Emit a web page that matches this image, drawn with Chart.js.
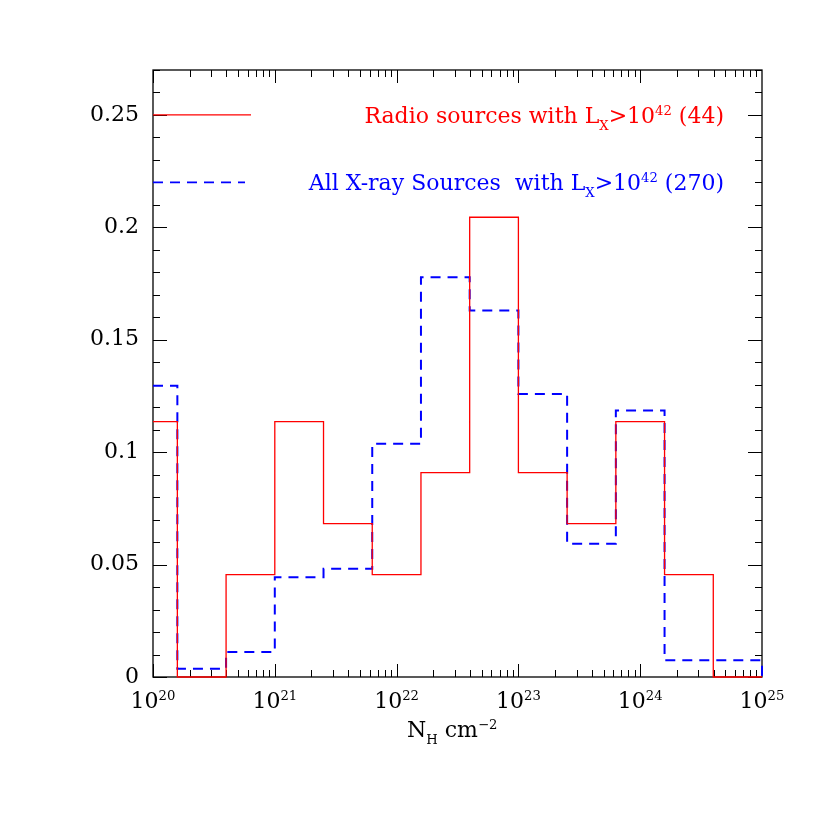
<!DOCTYPE html>
<html>
<head>
<meta charset="utf-8">
<script src="https://cdn.jsdelivr.net/npm/chart.js@4"></script>
<style>
html, body { margin: 0; padding: 0; background: #fff; }
</style>
</head>
<body>
<canvas id="myChart" width="830" height="830"></canvas>
<script>
// bin edges in log10(N_H)
const binEdges = [20, 20.2, 20.6, 21, 21.4, 21.8, 22.2, 22.6, 23, 23.4, 23.8, 24.2, 24.6, 25];
// fraction of sources per bin
const radioFrac = [0.1136, 0, 0.0455, 0.1136, 0.0682, 0.0455, 0.0909, 0.2045, 0.0909, 0.0682, 0.1136, 0.0455, 0];
const xrayFrac = [0.1296, 0.0037, 0.0111, 0.0444, 0.0481, 0.1037, 0.1778, 0.1630, 0.1259, 0.0593, 0.1185, 0.0074, 0.0074];
const decades = [20, 21, 22, 23, 24, 25];
const yLabels = [0, 0.05, 0.1, 0.15, 0.2, 0.25];
const legendY = [0.25, 0.22];

const FONT = "DejaVu Serif";
const RED = "#ff0000";
const BLUE = "#0000ff";

// Step outline, drops to zero at the right end
function histPoints(vals) {
    const pts = vals.map((v, i) => ({ x: Math.pow(10, binEdges[i]), y: v }));
    pts.push({ x: Math.pow(10, binEdges[binEdges.length - 1]), y: 0 });
    return pts;
}

// text with sub/superscripts, parts = [[text, mode]]
function partsWidth(ctx, parts, size) {
    let w = 0;
    parts.forEach(p => {
        ctx.font = `${p[1] ? size * 0.6 : size}px "${FONT}"`;
        w += ctx.measureText(p[0]).width;
    });
    return w;
}
function drawParts(ctx, parts, x, y, size) {
    ctx.textAlign = "left";
    ctx.textBaseline = "alphabetic";
    parts.forEach(p => {
        const s = p[1] ? size * 0.6 : size;
        ctx.font = `${s}px "${FONT}"`;
        let dy = 0;
        if (p[1] === "sup") dy = -size * 0.36;
        if (p[1] === "sub") dy = size * 0.3;
        ctx.fillText(p[0], x, y + dy);
        x += ctx.measureText(p[0]).width;
    });
}

const framePlugin = {
    id: "frame",
    beforeDatasetsDraw(chart) {
        const ctx = chart.ctx;
        const a = chart.chartArea;
        const xs = chart.scales.x, ys = chart.scales.y;
        ctx.save();
        ctx.strokeStyle = "#000";
        ctx.lineWidth = 1.3;
        ctx.strokeRect(a.left, a.top, a.right - a.left, a.bottom - a.top);
        ctx.lineWidth = 1;
        ctx.beginPath();
        // x ticks
        for (let d = decades[0]; d < decades[decades.length - 1]; d++) {
            for (let m = 1; m <= 9; m++) {
                const px = Math.round(xs.getPixelForValue(m * Math.pow(10, d))) + 0.5;
                const len = m === 1 ? 13 : 7;
                ctx.moveTo(px, a.bottom); ctx.lineTo(px, a.bottom - len);
                ctx.moveTo(px, a.top); ctx.lineTo(px, a.top + len);
            }
        }
        // y ticks
        ys.ticks.forEach(t => {
            const py = Math.round(ys.getPixelForValue(t.value)) + 0.5;
            const major = Math.abs(t.value * 20 - Math.round(t.value * 20)) < 1e-6;
            const len = major ? 14 : 7;
            ctx.moveTo(a.left, py); ctx.lineTo(a.left + len, py);
            ctx.moveTo(a.right, py); ctx.lineTo(a.right - len, py);
        });
        ctx.stroke();
        ctx.restore();
    },
    afterDraw(chart) {
        const ctx = chart.ctx;
        const a = chart.chartArea;
        const xs = chart.scales.x, ys = chart.scales.y;
        ctx.save();
        ctx.fillStyle = "#000";
        // x tick labels
        decades.forEach(d => {
            const px = xs.getPixelForValue(Math.pow(10, d));
            const parts = [["10", null], [String(d), "sup"]];
            const w = partsWidth(ctx, parts, 22);
            drawParts(ctx, parts, px - w / 2, a.bottom + 31, 22);
        });
        // x title
        const title = [["N", null], ["H", "sub"], [" cm", null], ["\u22122", "sup"]];
        drawParts(ctx, title, 407, 737, 22);

        // legend
        const entries = [
            { color: RED, dash: [], width: 1.2, xEnd: 251,
              parts: [["Radio sources with L", null], ["X", "sub"], [">10", null], ["42", "sup"], [" (44)", null]] },
            { color: BLUE, dash: [10, 7], width: 1.8, xEnd: 245,
              parts: [["All X-ray Sources  with L", null], ["X", "sub"], [">10", null], ["42", "sup"], [" (270)", null]] }
        ];
        entries.forEach((e, i) => {
            const py = ys.getPixelForValue(legendY[i]);
            ctx.strokeStyle = e.color;
            ctx.lineWidth = e.width;
            ctx.setLineDash(e.dash);
            ctx.beginPath();
            ctx.moveTo(a.left, py); ctx.lineTo(e.xEnd, py);
            ctx.stroke();
            ctx.setLineDash([]);
            ctx.fillStyle = e.color;
            const w = partsWidth(ctx, e.parts, 22);
            drawParts(ctx, e.parts, 724 - w, py + 8, 22);
        });
        ctx.restore();
    }
};

const ctx = document.getElementById("myChart").getContext("2d");
const chart = new Chart(ctx, {
    type: "line",
    data: {
        datasets: [
            {
                label: "Radio sources",
                data: histPoints(radioFrac),
                borderColor: RED,
                borderWidth: 1.3,
                stepped: true,
                pointRadius: 0,
                fill: false,
                clip: false
            },
            {
                label: "All X-ray Sources",
                data: histPoints(xrayFrac),
                borderColor: BLUE,
                borderWidth: 2,
                borderDash: [10, 7],
                stepped: true,
                pointRadius: 0,
                fill: false,
                clip: false
            }
        ]
    },
    options: {
        responsive: false,
        animation: false,
        layout: { padding: { left: 0, top: 70, right: 68, bottom: 0 } },
        plugins: { legend: { display: false }, tooltip: { enabled: false } },
        scales: {
            x: {
                type: "logarithmic",
                min: Math.pow(10, decades[0]),
                max: Math.pow(10, decades[decades.length - 1]),
                grid: { display: false },
                border: { display: false },
                ticks: { display: false },
                afterFit: s => { s.height = 153; }
            },
            y: {
                min: 0,
                max: 0.27,
                grid: { display: false, drawTicks: false },
                border: { display: false },
                ticks: {
                    stepSize: 0.01,
                    autoSkip: false,
                    padding: 14,
                    color: "#000",
                    font: { family: FONT, size: 22 },
                    callback: v => {
                        const r = Math.round(v * 100) / 100;
                        return yLabels.some(l => Math.abs(l - r) < 1e-6) ? String(r) : "";
                    }
                },
                afterFit: s => { s.width = 153; }
            }
        }
    },
    plugins: [framePlugin]
});
</script>
</body>
</html>
